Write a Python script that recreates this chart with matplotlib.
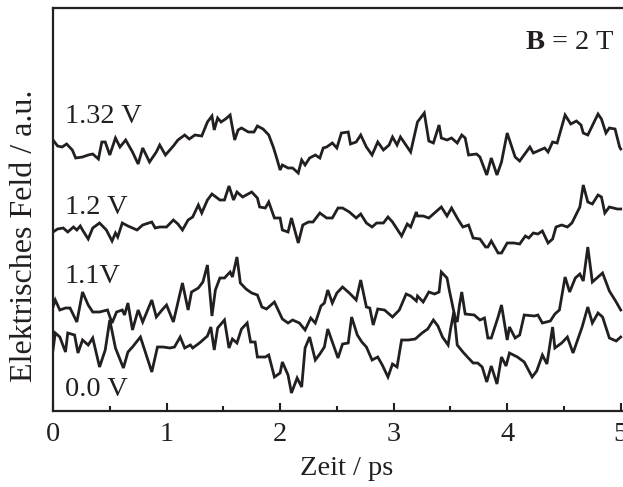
import numpy as np
import matplotlib
matplotlib.use("Agg")
import matplotlib.pyplot as plt
from matplotlib.ticker import MultipleLocator

# THz field traces (time in ps, field in a.u. incl. vertical offset), one per bias voltage
trace_132 = [
    (0.00, 27.1), (0.04, 26.5), (0.08, 26.4), (0.12, 26.7), (0.17, 26.1), (0.20, 25.3),
    (0.26, 25.4), (0.31, 25.6), (0.35, 25.7), (0.40, 25.2), (0.43, 26.9), (0.46, 26.9),
    (0.50, 25.6), (0.55, 27.3), (0.59, 26.4), (0.64, 27.1), (0.70, 25.9), (0.75, 24.7),
    (0.79, 26.3), (0.85, 24.9), (0.91, 25.9), (0.94, 26.6), (0.99, 25.6), (1.06, 26.5),
    (1.10, 27.1), (1.16, 27.6), (1.20, 27.2), (1.25, 27.6), (1.31, 27.5), (1.36, 28.9),
    (1.40, 29.5), (1.42, 28.1), (1.45, 29.3), (1.48, 28.9), (1.52, 29.2), (1.56, 29.6),
    (1.60, 27.1), (1.63, 28.1), (1.66, 28.3), (1.72, 27.9), (1.77, 27.9), (1.80, 28.5),
    (1.85, 28.2), (1.90, 27.6), (1.94, 26.4), (1.97, 25.3), (2.00, 24.1), (2.02, 24.6),
    (2.07, 24.3), (2.11, 24.3), (2.16, 23.8), (2.19, 25.1), (2.22, 24.6), (2.26, 25.3),
    (2.31, 25.6), (2.35, 25.3), (2.38, 26.3), (2.41, 26.4), (2.46, 26.8), (2.50, 26.3),
    (2.54, 27.8), (2.60, 27.9), (2.62, 26.7), (2.67, 26.9), (2.71, 27.6), (2.76, 26.4),
    (2.81, 25.6), (2.86, 26.9), (2.91, 26.1), (2.96, 26.6), (2.99, 27.4), (3.03, 26.6),
    (3.06, 27.4), (3.15, 25.9), (3.21, 28.9), (3.27, 29.8), (3.31, 27.0), (3.35, 26.8),
    (3.40, 28.6), (3.42, 27.3), (3.47, 27.1), (3.51, 27.3), (3.56, 26.8), (3.60, 27.6),
    (3.63, 27.3), (3.66, 25.6), (3.73, 25.7), (3.76, 25.4), (3.82, 23.6), (3.86, 25.3),
    (3.91, 23.6), (3.95, 24.9), (4.00, 27.8), (4.07, 25.4), (4.11, 25.0), (4.20, 26.4),
    (4.23, 25.8), (4.33, 26.3), (4.36, 25.9), (4.40, 26.9), (4.44, 26.8), (4.51, 29.6),
    (4.56, 28.7), (4.61, 29.0), (4.65, 28.6), (4.67, 27.8), (4.71, 27.6), (4.80, 29.7),
    (4.83, 29.2), (4.87, 27.8), (4.90, 28.3), (4.95, 28.2), (4.99, 26.4), (5.00, 26.2),
]

trace_120 = [
    (0.00, 17.9), (0.04, 18.2), (0.09, 18.3), (0.13, 17.9), (0.18, 18.4), (0.21, 18.1),
    (0.24, 18.5), (0.26, 18.1), (0.31, 17.2), (0.35, 18.3), (0.41, 18.8), (0.47, 18.1),
    (0.52, 17.0), (0.55, 17.8), (0.57, 17.4), (0.61, 18.8), (0.66, 18.5), (0.74, 18.1),
    (0.79, 18.6), (0.87, 18.9), (0.90, 18.3), (0.94, 18.4), (1.00, 18.4), (1.06, 19.1),
    (1.10, 18.7), (1.14, 18.1), (1.19, 19.1), (1.23, 19.4), (1.28, 20.6), (1.31, 19.8),
    (1.36, 21.1), (1.40, 21.7), (1.47, 21.1), (1.51, 21.1), (1.55, 22.5), (1.59, 21.1),
    (1.62, 21.9), (1.67, 21.4), (1.75, 21.9), (1.80, 21.3), (1.82, 20.4), (1.87, 20.3),
    (1.90, 20.9), (1.95, 19.3), (2.00, 19.3), (2.02, 18.1), (2.07, 17.9), (2.10, 19.3),
    (2.16, 16.8), (2.20, 18.6), (2.25, 18.9), (2.29, 18.9), (2.35, 19.8), (2.41, 19.3),
    (2.46, 19.3), (2.51, 20.3), (2.55, 20.3), (2.61, 19.9), (2.67, 19.3), (2.71, 19.7),
    (2.76, 18.8), (2.81, 18.4), (2.85, 18.8), (2.91, 18.8), (2.95, 19.4), (2.99, 18.9),
    (3.07, 17.5), (3.12, 18.7), (3.15, 18.4), (3.20, 19.9), (3.21, 19.5), (3.26, 19.5),
    (3.31, 19.3), (3.42, 20.4), (3.47, 19.5), (3.51, 20.3), (3.57, 19.1), (3.61, 18.4),
    (3.66, 18.6), (3.70, 17.3), (3.76, 17.2), (3.81, 16.4), (3.83, 16.4), (3.86, 17.0),
    (3.92, 15.8), (3.95, 15.8), (4.00, 16.8), (4.06, 16.8), (4.11, 16.7), (4.16, 17.5),
    (4.19, 17.3), (4.23, 17.8), (4.27, 17.7), (4.31, 18.0), (4.36, 16.8), (4.40, 17.2),
    (4.43, 18.4), (4.48, 18.6), (4.53, 18.4), (4.57, 18.8), (4.64, 20.4), (4.67, 22.6),
    (4.71, 20.9), (4.75, 20.7), (4.80, 21.6), (4.83, 21.4), (4.86, 19.8), (4.90, 20.4),
    (4.97, 20.2), (5.00, 20.2),
]

trace_110 = [
    (0.00, 10.4), (0.02, 11.1), (0.06, 10.1), (0.11, 10.3), (0.15, 10.3), (0.21, 8.9),
    (0.26, 11.9), (0.31, 10.6), (0.35, 9.9), (0.41, 9.9), (0.48, 10.1), (0.52, 8.8),
    (0.56, 9.9), (0.61, 10.1), (0.63, 9.6), (0.66, 10.8), (0.70, 8.1), (0.75, 10.1),
    (0.79, 8.9), (0.87, 11.1), (0.91, 9.4), (0.96, 10.1), (1.00, 10.6), (1.06, 8.9),
    (1.14, 12.8), (1.19, 10.1), (1.22, 11.9), (1.28, 12.3), (1.32, 12.9), (1.36, 14.6),
    (1.40, 9.5), (1.43, 12.1), (1.47, 13.3), (1.51, 13.3), (1.56, 13.9), (1.58, 13.4),
    (1.62, 15.4), (1.65, 12.8), (1.70, 12.2), (1.75, 11.8), (1.80, 11.6), (1.84, 10.4),
    (1.88, 10.2), (1.95, 10.9), (2.02, 9.2), (2.07, 8.8), (2.11, 9.1), (2.17, 8.8),
    (2.22, 8.1), (2.27, 9.3), (2.31, 8.8), (2.36, 10.5), (2.39, 10.8), (2.42, 12.1),
    (2.46, 10.8), (2.50, 11.8), (2.55, 12.4), (2.61, 11.8), (2.67, 11.1), (2.71, 13.1),
    (2.76, 10.4), (2.79, 10.3), (2.82, 8.6), (2.86, 10.2), (2.92, 10.1), (2.99, 9.4),
    (3.05, 10.1), (3.11, 11.7), (3.15, 11.5), (3.20, 11.0), (3.21, 11.5), (3.26, 10.9),
    (3.31, 11.9), (3.36, 11.7), (3.40, 11.9), (3.42, 13.9), (3.47, 13.3), (3.49, 12.1),
    (3.54, 9.4), (3.56, 8.9), (3.58, 10.6), (3.60, 11.9), (3.63, 9.7), (3.71, 9.6),
    (3.76, 9.1), (3.80, 9.3), (3.83, 7.3), (3.86, 7.3), (3.92, 9.4), (3.95, 10.6),
    (4.00, 7.1), (4.02, 8.4), (4.07, 7.3), (4.11, 7.6), (4.15, 9.6), (4.24, 9.5),
    (4.27, 9.6), (4.31, 8.8), (4.38, 9.0), (4.42, 9.7), (4.46, 10.1), (4.51, 13.4),
    (4.55, 11.9), (4.60, 13.3), (4.64, 13.7), (4.67, 13.0), (4.71, 16.4), (4.75, 12.9),
    (4.84, 13.8), (4.90, 12.0), (4.96, 10.9), (5.00, 10.1),
]

trace_000 = [
    (0.00, 6.1), (0.02, 7.8), (0.06, 7.4), (0.11, 5.9), (0.13, 7.8), (0.19, 7.6),
    (0.22, 5.8), (0.26, 7.1), (0.31, 6.6), (0.35, 7.3), (0.41, 4.4), (0.46, 6.1),
    (0.50, 9.1), (0.55, 6.3), (0.62, 4.3), (0.66, 5.9), (0.70, 6.4), (0.77, 7.4),
    (0.83, 5.3), (0.87, 3.9), (0.92, 6.4), (0.97, 6.4), (1.03, 6.3), (1.07, 6.4),
    (1.12, 7.4), (1.16, 6.3), (1.21, 6.6), (1.23, 6.3), (1.29, 6.8), (1.36, 7.5),
    (1.39, 8.4), (1.42, 6.1), (1.45, 8.3), (1.51, 9.1), (1.55, 6.3), (1.58, 7.2),
    (1.62, 6.8), (1.66, 8.2), (1.71, 8.8), (1.74, 6.9), (1.78, 6.9), (1.80, 5.4),
    (1.87, 5.4), (1.90, 5.6), (1.95, 3.4), (2.00, 3.8), (2.02, 4.9), (2.07, 3.6),
    (2.10, 1.8), (2.15, 3.3), (2.19, 2.4), (2.22, 6.3), (2.26, 7.4), (2.31, 5.1),
    (2.35, 5.7), (2.39, 6.4), (2.42, 8.2), (2.46, 6.9), (2.51, 5.3), (2.55, 6.7),
    (2.60, 6.8), (2.63, 9.4), (2.68, 7.6), (2.72, 6.9), (2.76, 6.4), (2.81, 5.1),
    (2.86, 5.4), (2.90, 4.6), (2.95, 3.4), (2.99, 4.7), (3.03, 4.4), (3.07, 7.1),
    (3.13, 7.1), (3.19, 7.2), (3.25, 7.8), (3.30, 8.2), (3.35, 9.1), (3.39, 8.5),
    (3.43, 7.4), (3.48, 6.6), (3.50, 8.1), (3.53, 9.9), (3.56, 6.6), (3.61, 5.9),
    (3.65, 5.4), (3.70, 4.8), (3.74, 4.8), (3.78, 4.4), (3.82, 2.9), (3.86, 4.5),
    (3.91, 2.7), (3.95, 5.4), (3.99, 4.5), (4.02, 5.8), (4.09, 5.4), (4.15, 4.9),
    (4.22, 3.4), (4.26, 4.0), (4.31, 5.6), (4.35, 4.7), (4.40, 8.4), (4.42, 6.3),
    (4.48, 6.8), (4.53, 7.4), (4.58, 5.8), (4.66, 8.4), (4.71, 10.4), (4.75, 8.8),
    (4.80, 9.8), (4.84, 9.4), (4.90, 7.3), (4.96, 7.0), (5.00, 7.4),
]

traces = [trace_132, trace_120, trace_110, trace_000]
voltage_labels = ["1.32 V", "1.2 V", "1.1V", "0.0 V"]
label_y = [28.8, 19.7, 12.8, 1.5]

plt.rcParams["font.family"] = ["Liberation Serif", "DejaVu Serif"]
plt.rcParams["mathtext.fontset"] = "custom"
plt.rcParams["mathtext.rm"] = "Liberation Serif"
plt.rcParams["mathtext.bf"] = "Liberation Serif:bold"

ink = "#231f20"
fs = 20.5

fig = plt.figure(figsize=(6.23, 4.87), dpi=100)
ax = fig.add_axes([53 / 623, 1 - 411 / 487, 570 / 623, 403 / 487])

for tr in traces:
    t, e = np.array(tr).T
    ax.plot(t, e, color=ink, lw=2.0, solid_joinstyle="miter")

for lab, y in zip(voltage_labels, label_y):
    ax.text(0.106, y, lab, fontsize=fs, color=ink, ha="left", va="baseline")

ax.text(4.95, 36.2, r"$\mathbf{B}$ = 2 T", fontsize=fs, color=ink,
        ha="right", va="baseline")

ax.set_xlim(0, 5.02)
ax.set_ylim(0, 40.3)
ax.spines["right"].set_visible(False)
for s in ["left", "bottom", "top"]:
    ax.spines[s].set_linewidth(1.6)
    ax.spines[s].set_color(ink)

ax.xaxis.set_major_locator(MultipleLocator(1))
ax.xaxis.set_minor_locator(MultipleLocator(0.5))
ax.tick_params(axis="x", which="major", direction="in", length=6, width=1.5,
               labelsize=fs, pad=8, colors=ink, top=False)
ax.tick_params(axis="x", which="minor", direction="in", length=3.5, width=1.5,
               colors=ink, top=False)
ax.set_yticks([])

ax.set_xlabel("Zeit / ps", fontsize=fs, color=ink)
ax.xaxis.set_label_coords(0.516, -0.112)
ax.set_ylabel("Elektrisches Feld / a.u.", fontsize=23, color=ink)
ax.yaxis.set_label_coords(-0.0245, 0.434)

fig.savefig("out.png", dpi=100)
